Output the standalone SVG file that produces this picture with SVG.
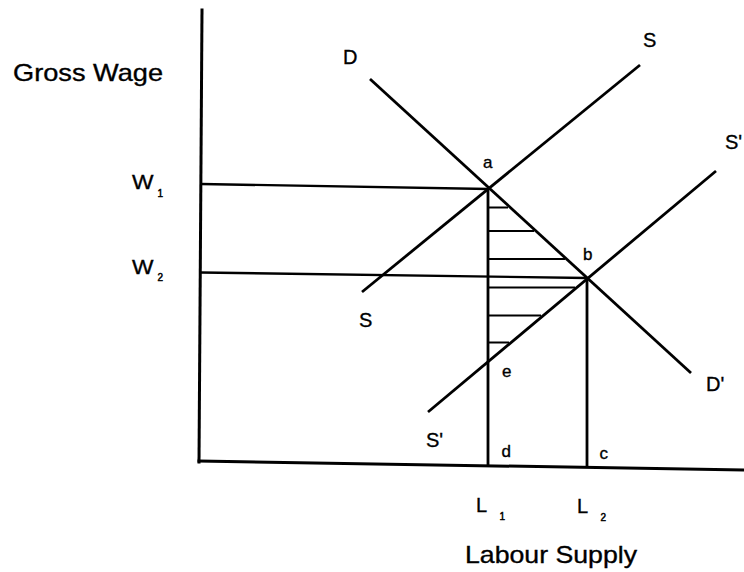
<svg xmlns="http://www.w3.org/2000/svg" width="744" height="572" viewBox="0 0 744 572">
<style>
  .ax { stroke:#000; stroke-width:3; fill:none; stroke-linecap:square; }
  .ln { stroke:#000; stroke-width:2.8; fill:none; stroke-linecap:butt; }
  .gd { stroke:#000; stroke-width:2.4; fill:none; }
  .ht { stroke:#000; stroke-width:2; fill:none; }
  text { font-family:"Liberation Sans", Arial, Helvetica, sans-serif; fill:#000; stroke:#000; stroke-width:0.35; }
  .big { font-size:24px; }
  .lab { font-size:20px; }
  .low { font-size:17px; }
  .sub { font-size:10px; stroke-width:0.5; }
</style>
<rect width="744" height="572" fill="#fff"/>

<g id="axes">
  <line class="ax" x1="202" y1="10" x2="199" y2="462"/>
  <line class="ax" x1="199" y1="461" x2="744" y2="470"/>
</g>

<g id="connectors">
  <line class="gd" x1="201" y1="184" x2="489" y2="189"/>
  <line class="gd" x1="201" y1="272.5" x2="587" y2="278"/>
  <line class="ln" x1="488" y1="189" x2="488" y2="466"/>
  <line class="ln" x1="587" y1="278" x2="587" y2="467"/>
  <line class="ln" x1="370" y1="79" x2="691" y2="373"/>
  <line class="ln" x1="362" y1="292" x2="640" y2="65"/>
  <line class="ln" x1="428" y1="412" x2="716" y2="171"/>
</g>

<g id="hatching">
  <line class="ht" x1="488" y1="207.5" x2="508" y2="207.5"/>
  <line class="ht" x1="488" y1="231" x2="534" y2="231"/>
  <line class="ht" x1="488" y1="259" x2="565" y2="259"/>
  <line class="ht" x1="488" y1="287.5" x2="575" y2="287.5"/>
  <line class="ht" x1="488" y1="315.5" x2="541" y2="315.5"/>
  <line class="ht" x1="488" y1="342.5" x2="509" y2="342.5"/>
</g>

<g id="axis-titles">
  <text class="big" x="13" y="81" textLength="150" lengthAdjust="spacingAndGlyphs">Gross Wage</text>
  <text class="big" x="465" y="563" textLength="172" lengthAdjust="spacingAndGlyphs">Labour Supply</text>
</g>

<g id="wage-labels">
  <text class="lab" x="132" y="188.5" textLength="21.5" lengthAdjust="spacingAndGlyphs">W</text>
  <text class="sub" x="157.5" y="197">1</text>
  <text class="lab" x="132" y="274" textLength="21.5" lengthAdjust="spacingAndGlyphs">W</text>
  <text class="sub" x="157.5" y="280.5">2</text>
</g>

<g id="quantity-labels">
  <text class="lab" x="476" y="512">L</text>
  <text class="sub" x="499.5" y="519.5">1</text>
  <text class="lab" x="577" y="513">L</text>
  <text class="sub" x="600.5" y="521">2</text>
</g>

<g id="curve-labels">
  <text class="lab" x="343" y="63.5">D</text>
  <text class="lab" x="643" y="46.5">S</text>
  <text class="lab" x="725" y="148.5">S'</text>
  <text class="lab" x="359" y="327">S</text>
  <text class="lab" x="706" y="391">D'</text>
  <text class="lab" x="426" y="447">S'</text>
</g>

<g id="point-labels">
  <text class="low" x="483" y="168">a</text>
  <text class="low" x="583" y="259.5">b</text>
  <text class="low" x="502" y="376.5">e</text>
  <text class="low" x="501.5" y="457">d</text>
  <text class="low" x="599.5" y="458.5">c</text>
</g>
</svg>
